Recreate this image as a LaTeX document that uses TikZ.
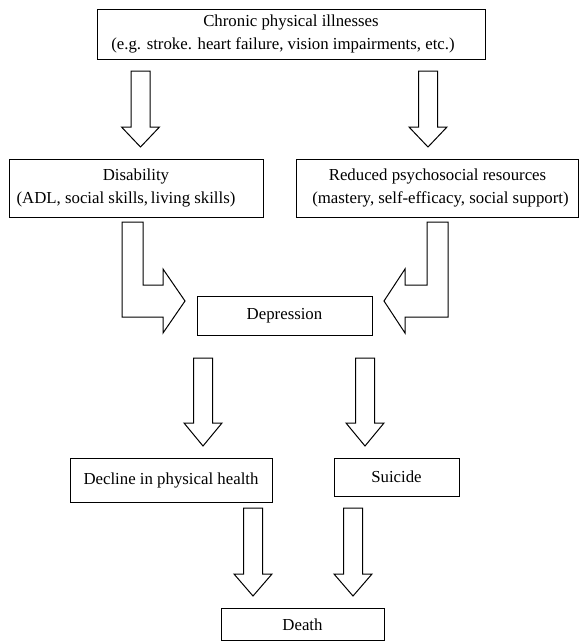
\documentclass[tikz,border=0pt]{standalone}
\usepackage{fontspec}
\setmainfont{Liberation Serif}
\tikzset{
  box/.style={draw, line width=1pt, align=center, inner sep=0pt,
    font=\fontsize{16.8}{23}\selectfont},
  blockarrow/.style={draw, line width=1pt, fill=white, line join=miter}
}
\newcommand\downblock[4]{%
  \draw[blockarrow] (#1-9.5,#2) -- (#1+9.5,#2) -- (#1+9.5,#3) -- (#1+19,#3)
    -- (#1,#4) -- (#1-19,#3) -- (#1-9.5,#3) -- cycle;}
\begin{document}
\begin{tikzpicture}[x=1pt,y=-1pt]
\useasboundingbox (0,0) rectangle (580,641);
% boxes
\node[box, minimum width=388pt, minimum height=50pt] (ill) at (291,34)
  {Chronic physical illnesses\\(e.g. stroke. heart failure, vision impairments, etc.)\hspace*{16pt}};
\node[box, minimum width=254pt, minimum height=58pt] (dis) at (136,188)
  {Disability\\(ADL, social skills,\,living skills)\hspace*{20pt}};
\node[box, minimum width=282pt, minimum height=58pt] (res) at (437.5,188)
  {Reduced psychosocial resources\\\hspace*{6pt}(mastery, self-efficacy, social support)};
\node[box, minimum width=175pt, minimum height=39pt] (dep) at (284.5,315.5) {Depression};
\node[box, minimum width=202pt, minimum height=44pt] (dec) at (171,480) {Decline in physical health};
\node[box, minimum width=125pt, minimum height=38pt] (sui) at (396.5,477) {Suicide};
\node[box, minimum width=163pt, minimum height=32pt] (dea) at (302.5,624.5) {Death};
% straight block arrows
\downblock{140.5}{71}{127}{147}
\downblock{428}{71}{127}{147}
\downblock{203}{358}{423}{446}
\downblock{365}{358}{423}{446}
\downblock{253}{508}{574}{596}
\downblock{353}{508}{574}{596}
% bent block arrows
\draw[blockarrow] (122,222) -- (143,222) -- (143,285) -- (163,285) -- (163,269)
  -- (185,301) -- (163,333) -- (163,317) -- (122,317) -- cycle;
\draw[blockarrow] (448,222) -- (427,222) -- (427,285) -- (405,285) -- (405,269)
  -- (384,301) -- (405,333) -- (405,317) -- (448,317) -- cycle;
\end{tikzpicture}
\end{document}
